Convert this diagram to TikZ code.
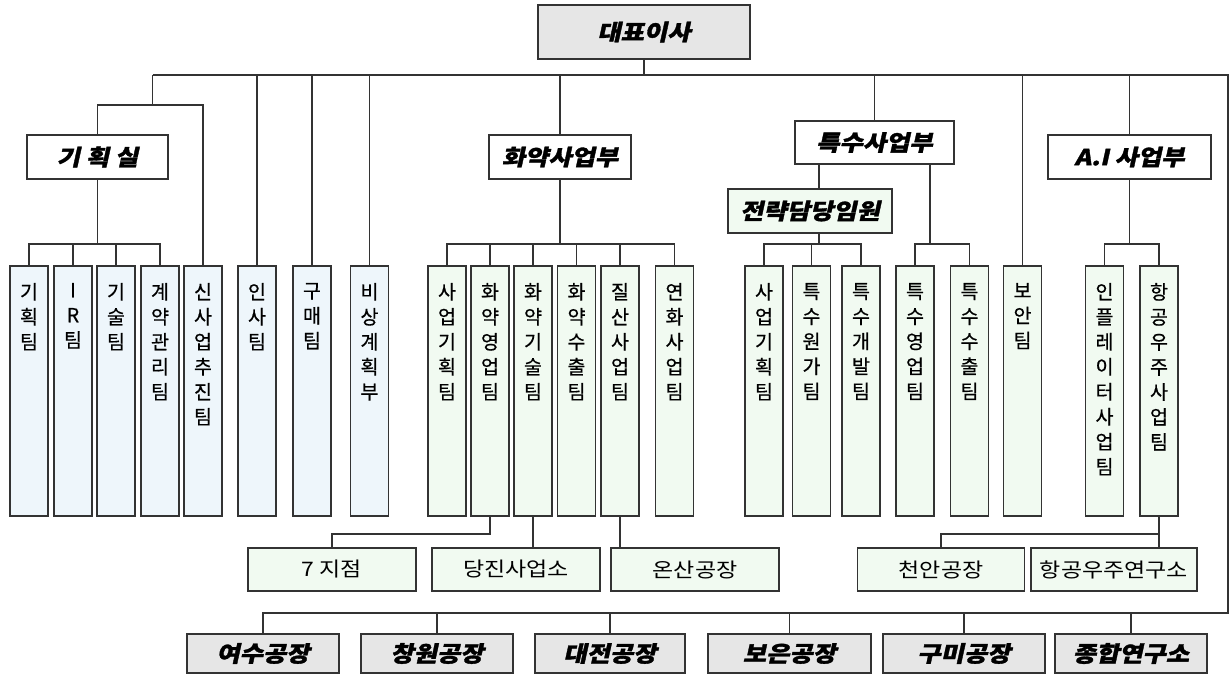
\documentclass[tikz,border=0pt]{standalone}
\usepackage{fontspec}
\newfontfamily\krv{Noto Sans CJK KR}[FakeBold=0.6]
\newfontfamily\krh{Noto Sans CJK KR}[FakeStretch=1.15]
\newfontfamily\krb{Noto Sans CJK KR}[FakeStretch=1.15,FakeSlant=0.22,FakeBold=1.5]
\definecolor{ln}{HTML}{333333}
\definecolor{gr}{HTML}{E6E6E6}
\definecolor{bl}{HTML}{EEF6FB}
\definecolor{gn}{HTML}{F1FAF1}
\newcommand{\vt}[1]{\parbox[c][250pt][t]{38pt}{\centering\krv\fontsize{19.5}{25}\selectfont\vspace*{17pt}#1\par}}
\tikzset{
  base/.style={draw=ln, line width=1.2pt, inner sep=0pt},
  title/.style={base, fill=white, font=\krb\bfseries\fontsize{22}{22}\selectfont},
  gtitle/.style={base, fill=gr, font=\krb\bfseries\fontsize{22}{22}\selectfont},
  vbb/.style={base, fill=bl},
  vbg/.style={base, fill=gn},
  sub/.style={base, fill=gn, minimum width=168pt, minimum height=43pt, font=\krh\fontsize{20}{20}\selectfont},
  bot/.style={gtitle, minimum height=39pt},
  con/.style={draw=ln, line width=1.2pt}
}
\begin{document}
\begin{tikzpicture}[x=1pt,y=-1pt]
\useasboundingbox (0,0) rectangle (1232,675);
% top
\node[gtitle, minimum width=212pt, minimum height=54pt] (ceo) at (644,32) {대표이사};
\node[title, minimum width=141pt, minimum height=44pt] (gh) at (97.5,157) {기 획 실};
\node[title, minimum width=142pt, minimum height=44pt] (hy) at (560,157) {화약사업부};
\node[title, minimum width=159pt, minimum height=43pt] (ts) at (874.5,142.5) {특수사업부};
\node[title, minimum width=163pt, minimum height=44pt] (ai) at (1129.5,157) {A.I 사업부};
\node[title, fill=gn, minimum width=164pt, minimum height=44pt] (jr) at (810,211) {전략담당임원};
% vertical boxes
\node[vbb] (b1) at (29,391) {\vt{기\\획\\팀}};
\node[vbb] (b2) at (73,391) {\vt{I\\R\\팀}};
\node[vbb] (b3) at (116,391) {\vt{기\\술\\팀}};
\node[vbb] (b4) at (160,391) {\vt{계\\약\\관\\리\\팀}};
\node[vbb] (b5) at (203,391) {\vt{신\\사\\업\\추\\진\\팀}};
\node[vbb] (b6) at (257,391) {\vt{인\\사\\팀}};
\node[vbb] (b7) at (312,391) {\vt{구\\매\\팀}};
\node[vbb] (b8) at (369.5,391) {\vt{비\\상\\계\\획\\부}};
\node[vbg] (c1) at (447,391) {\vt{사\\업\\기\\획\\팀}};
\node[vbg] (c2) at (490,391) {\vt{화\\약\\영\\업\\팀}};
\node[vbg] (c3) at (533,391) {\vt{화\\약\\기\\술\\팀}};
\node[vbg] (c4) at (576.5,391) {\vt{화\\약\\수\\출\\팀}};
\node[vbg] (c5) at (620,391) {\vt{질\\산\\사\\업\\팀}};
\node[vbg] (c6) at (674.5,391) {\vt{연\\화\\사\\업\\팀}};
\node[vbg] (d1) at (764,391) {\vt{사\\업\\기\\획\\팀}};
\node[vbg] (d2) at (811.5,391) {\vt{특\\수\\원\\가\\팀}};
\node[vbg] (d3) at (861,391) {\vt{특\\수\\개\\발\\팀}};
\node[vbg] (d4) at (915,391) {\vt{특\\수\\영\\업\\팀}};
\node[vbg] (d5) at (969.5,391) {\vt{특\\수\\수\\출\\팀}};
\node[vbg] (e1) at (1022.5,391) {\vt{보\\안\\팀}};
\node[vbg] (f1) at (1104.5,391) {\vt{인\\플\\레\\이\\터\\사\\업\\팀}};
\node[vbg] (f2) at (1159,391) {\vt{항\\공\\우\\주\\사\\업\\팀}};
% branch offices
\node[sub] (g1) at (332,569.5) {7 지점};
\node[sub] (g2) at (516,569.5) {당진사업소};
\node[sub] (g3) at (695,569.5) {온산공장};
\node[sub, minimum width=167pt] (h1) at (941,569.5) {천안공장};
\node[sub, minimum width=166pt] (h2) at (1114,569.5) {항공우주연구소};
% bottom
\node[bot, minimum width=152pt] (k1) at (263,653.5) {여수공장};
\node[bot, minimum width=152pt] (k2) at (437,653.5) {창원공장};
\node[bot, minimum width=150pt] (k3) at (610,653.5) {대전공장};
\node[bot, minimum width=163pt] (k4) at (789.5,653.5) {보은공장};
\node[bot, minimum width=162pt] (k5) at (964,653.5) {구미공장};
\node[bot, minimum width=152pt] (k6) at (1131,653.5) {종합연구소};
% coordinates
\coordinate (m0) at (152.6,75);
\coordinate (mR) at (1228,75);
\coordinate (bR) at (1228,613);
\coordinate (gk) at (152.6,105);
\coordinate (yb1) at (0,244);
\coordinate (yb2) at (0,534);
\coordinate (tsj) at (819,0);
\coordinate (tsr) at (930,0);
% connectors
\draw[con] (ceo.south) -- (ceo.south |- m0);
\draw[con] (m0) -- (mR) -- (bR) -| (k1.north);
\foreach \k in {k2,k3,k4,k5,k6} \draw[con] (\k.north) -- (\k.north |- bR);
\foreach \k in {b6,b7,b8,hy,ts,e1,ai} \draw[con] (\k.north) -- (\k.north |- m0);
\draw[con] (m0) -- (gk);
\draw[con] (gh.north) |- (b5.north |- gk) -- (b5.north);
\draw[con] (gh.south) -- (gh.south |- yb1);
\draw[con] (b1.north) -- (b1.north |- yb1) -| (b4.north);
\foreach \k in {b2,b3} \draw[con] (\k.north) -- (\k.north |- yb1);
\draw[con] (hy.south) -- (hy.south |- yb1);
\draw[con] (c1.north) -- (c1.north |- yb1) -| (c6.north);
\foreach \k in {c2,c3,c4,c5} \draw[con] (\k.north) -- (\k.north |- yb1);
\draw[con] (ts.south -| tsj) -- (jr.north -| tsj);
\draw[con] (jr.south -| tsj) -- (tsj |- yb1);
\draw[con] (d1.north) -- (d1.north |- yb1) -| (d3.north);
\draw[con] (d2.north) -- (d2.north |- yb1);
\draw[con] (ts.south -| tsr) -- (tsr |- yb1);
\draw[con] (d4.north) -- (d4.north |- yb1) -| (d5.north);
\draw[con] (ai.south) -- (ai.south |- yb1);
\draw[con] (f1.north) -- (f1.north |- yb1) -| (f2.north);
\draw[con] (c2.south) -- (c2.south |- yb2) -| (g1.north);
\draw[con] (c3.south) -- (c3.south |- g2.north);
\draw[con] (c5.south) -- (c5.south |- g3.north);
\draw[con] (f2.south) -- (f2.south |- h2.north);
\draw[con] (f2.south |- yb2) -| (h1.north);
\end{tikzpicture}
\end{document}
